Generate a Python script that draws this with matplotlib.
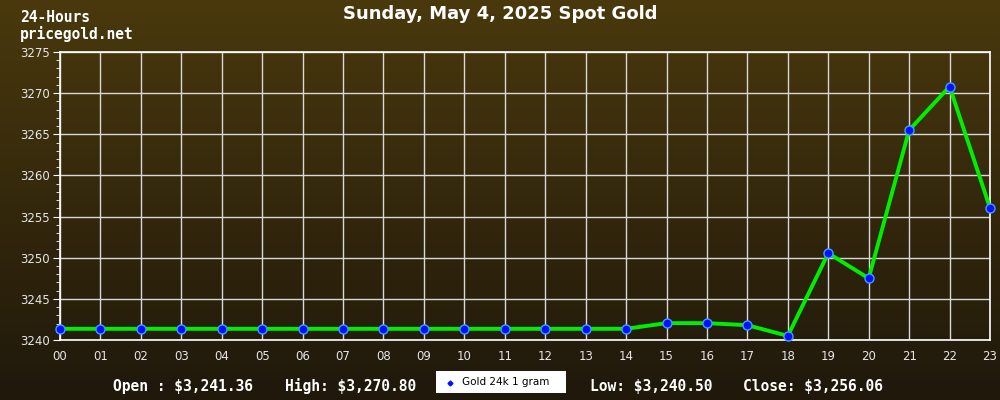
import matplotlib
matplotlib.use("Agg")
import matplotlib.pyplot as plt
import numpy as np
from matplotlib.colors import LinearSegmentedColormap

hours = ["00", "01", "02", "03", "04", "05", "06", "07", "08", "09", "10", "11",
         "12", "13", "14", "15", "16", "17", "18", "19", "20", "21", "22", "23"]
prices = [3241.36, 3241.36, 3241.36, 3241.36, 3241.36, 3241.36, 3241.36, 3241.36,
          3241.36, 3241.36, 3241.36, 3241.36, 3241.36, 3241.36, 3241.36, 3242.05,
          3242.05, 3241.80, 3240.50, 3250.55, 3247.50, 3265.50, 3270.80, 3256.06]
y_ticks = [3240, 3245, 3250, 3255, 3260, 3265, 3270, 3275]
summary = ["Open : $3,241.36", "High: $3,270.80", "Low: $3,240.50", "Close: $3,256.06"]

fig = plt.figure(figsize=(10, 4), dpi=100)

# background gradient over the whole figure
bg = fig.add_axes([0, 0, 1, 1], zorder=-10)
cmap = LinearSegmentedColormap.from_list("bg", ["#4a390d", "#1f180b"])
bg.imshow(np.linspace(0, 1, 256).reshape(-1, 1), aspect="auto", cmap=cmap,
          extent=[0, 1, 0, 1])
bg.axis("off")

ax = fig.add_axes([0.06, 0.15, 0.93, 0.72])
ax.patch.set_alpha(0)
x = np.arange(len(hours))
ax.plot(x, prices, color="#00ee00", lw=2.8, zorder=3)
ax.plot(x, prices, ls="none", marker="o", ms=6.5, mfc="#0010ff", mec="#3aa0ff",
        mew=1, zorder=4, clip_on=False)

ax.set_xlim(0, 23)
ax.set_ylim(3240, 3275)
ax.set_xticks(x)
ax.set_xticklabels(hours)
ax.set_yticks(y_ticks)
ax.set_yticks(np.arange(3240, 3276, 1), minor=True)
ax.grid(True, color="#d8d8d8", lw=1)
ax.set_axisbelow(True)

for s in ax.spines.values():
    s.set_color("white")
    s.set_linewidth(1.2)
ax.tick_params(axis="x", length=0, colors="#e6e6e6", labelsize=8.5, pad=7)
ax.tick_params(axis="y", which="major", length=5, color="white", colors="#e6e6e6",
               labelsize=8.5, pad=2)
ax.tick_params(axis="y", which="minor", length=3, color="white")

fig.text(0.5, 0.965, "Sunday, May 4, 2025 Spot Gold", ha="center", va="center",
         color="white", fontsize=13, fontweight="bold", family="DejaVu Sans")
fig.text(0.02, 0.935, "24-Hours\npricegold.net", ha="left", va="center",
         color="white", fontsize=10.5, family="DejaVu Sans Mono", fontweight="bold",
         linespacing=1.05)

mono = dict(color="white", fontsize=10.5, family="DejaVu Sans Mono",
            fontweight="bold", va="center")
fig.text(0.113, 0.035, summary[0], **mono)
fig.text(0.285, 0.035, summary[1], **mono)
fig.text(0.590, 0.035, summary[2], **mono)
fig.text(0.743, 0.035, summary[3], **mono)

leg_ax = fig.add_axes([0.436, 0.018, 0.13, 0.055])
leg_ax.set_xlim(0, 1)
leg_ax.set_ylim(0, 1)
leg_ax.set_facecolor("white")
leg_ax.set_xticks([])
leg_ax.set_yticks([])
for s in leg_ax.spines.values():
    s.set_visible(False)
leg_ax.plot([0.11], [0.45], marker="D", ms=2.5, color="#0010ff")
leg_ax.text(0.2, 0.5, "Gold 24k 1 gram", fontsize=7.5, va="center", ha="left",
            color="black")

fig.savefig("out.png", dpi=100)
